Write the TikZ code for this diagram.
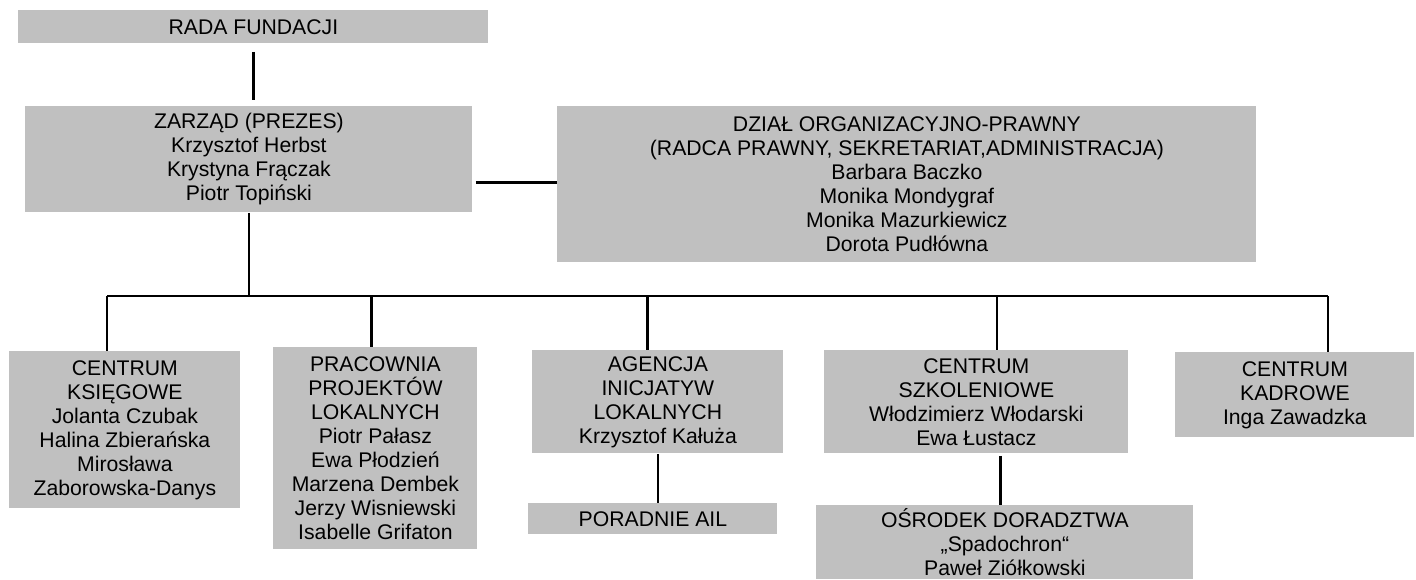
\documentclass[tikz,border=0pt]{standalone}
\usepackage{fontspec}
\setmainfont{Liberation Sans}
\usepackage{tikz}
\usetikzlibrary{calc}
\definecolor{unitgray}{RGB}{192,192,192}
\tikzset{
  unit/.style={fill=unitgray,draw=none,align=center,inner sep=1pt,
               anchor=north west,font=\fontsize{10.6}{12}\selectfont},
  lnk/.style={draw=black,line width=1pt},
  lnkB/.style={draw=black,line width=1.5pt},
  lnkT/.style={draw=black,line width=0.75pt},
}

\begin{document}
\begin{tikzpicture}[x=0.5pt,y=-0.5pt]
\useasboundingbox (0,0) rectangle (1416,579);
% top level
\node[unit,minimum width=235pt,minimum height=16.5pt] (rada) at (18,10) {RADA FUNDACJI};
\node[unit,minimum width=223.5pt,minimum height=53pt] (zarzad) at (25,106)
  {ZARZĄD (PREZES)\\ Krzysztof Herbst\\ Krystyna Frączak\\ Piotr Topiński};
\node[unit,minimum width=349.5pt,minimum height=78pt] (dzial) at (557,106)
  {DZIAŁ ORGANIZACYJNO-PRAWNY\\ (RADCA PRAWNY, SEKRETARIAT,ADMINISTRACJA)\\
   Barbara Baczko\\ Monika Mondygraf\\ Monika Mazurkiewicz\\ Dorota Pudłówna};
% departments
\node[unit,minimum width=115.5pt,minimum height=78.5pt] (ksieg) at (9,351)
  {CENTRUM\\ KSIĘGOWE\\ Jolanta Czubak\\ Halina Zbierańska\\ Mirosława\\ Zaborowska-Danys};
\node[unit,minimum width=102pt,minimum height=101pt] (prac) at (273,347)
  {PRACOWNIA\\ PROJEKTÓW\\ LOKALNYCH\\ Piotr Pałasz\\ Ewa Płodzień\\ Marzena Dembek\\
   Jerzy Wisniewski\\ Isabelle Grifaton};
\node[unit,minimum width=125.5pt,minimum height=51.5pt] (agencja) at (532,350)
  {AGENCJA\\ INICJATYW\\ LOKALNYCH\\ Krzysztof Kałuża};
\node[unit,minimum width=124.5pt,minimum height=15.5pt] (poradnie) at (528,503) {PORADNIE AIL};
\node[unit,minimum width=152pt,minimum height=51.5pt] (szkol) at (824,350)
  {CENTRUM\\ SZKOLENIOWE\\ Włodzimierz Włodarski\\ Ewa Łustacz};
\node[unit,minimum width=188.5pt,minimum height=37pt] (osrodek) at (816,505)
  {OŚRODEK DORADZTWA\\ „Spadochron“\\ Paweł Ziółkowski};
\node[unit,minimum width=119.5pt,minimum height=42.5pt] (kadrowe) at (1175,352)
  {CENTRUM\\ KADROWE\\ Inga Zawadzka};
% bus points
\coordinate (b1) at (107,296);
\coordinate (b2) at (371,296);
\coordinate (b3) at (647,296);
\coordinate (b4) at (997,296);
\coordinate (b5) at (1328,296);
% connectors
\draw[lnkB,shorten <=4pt,shorten >=3pt] (rada.south) -- (rada.south |- zarzad.north);
\draw[lnkB,shorten <=1.5pt] (zarzad.east |- 0,182) -- (dzial.west |- 0,182);
\draw[lnk] (zarzad.south) -- (zarzad.south |- b1);
\draw[lnk] (b1) -- (b5);
\draw[lnk] (b1) -- (b1 |- ksieg.north);
\draw[lnkB] (b2) -- (b2 |- prac.north);
\draw[lnkB] (b3) -- (b3 |- agencja.north);
\draw[lnkT] (b4) -- (b4 |- szkol.north);
\draw[lnk] (b5) -- (b5 |- kadrowe.north);
\draw[lnk] (agencja.south) -- (agencja.south |- poradnie.north);
\draw[lnkB,shorten <=1pt] ([xshift=-2.25pt]osrodek.north |- szkol.south) -- ([xshift=-2.25pt]osrodek.north);
\end{tikzpicture}
\end{document}
